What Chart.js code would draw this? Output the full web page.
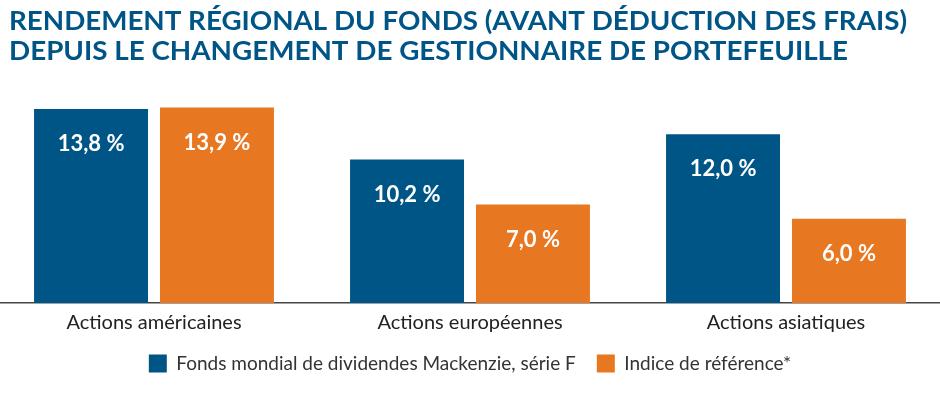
<!DOCTYPE html>
<html>
<head>
<meta charset="utf-8">
<script src="https://cdn.jsdelivr.net/npm/chart.js@4"></script>
<style>
  html, body { margin: 0; padding: 0; background: #fff; overflow: hidden; }
  #wrap { position: absolute; left: -4px; top: 0; width: 948px; height: 397px; }
</style>
</head>
<body>
<div id="wrap"><canvas id="regionChart"></canvas></div>
<script>
// Rendement régional du fonds
const categories = ['Actions américaines', 'Actions européennes', 'Actions asiatiques'];
const fundValues = [13.8, 10.2, 12.0];
const indexValues = [13.9, 7.0, 6.0];
const seriesNames = ['Fonds mondial de dividendes Mackenzie, série F', 'Indice de référence*'];
const titleLines = [
    'RENDEMENT RÉGIONAL DU FONDS (AVANT DÉDUCTION DES FRAIS)',
    'DEPUIS LE CHANGEMENT DE GESTIONNAIRE DE PORTEFEUILLE'
];

const BLUE = '#005587';
const ORANGE = '#e87722';
const FONT = 'Lato, "Open Sans", sans-serif';

// title drawn by hand so each line can be fitted to its width
const titlePlugin = {
    id: 'titleLines',
    afterDraw(chart) {
        const ctx = chart.ctx;
        const widths = [898, 839];
        ctx.save();
        ctx.fillStyle = BLUE;
        ctx.font = 'bold 27px ' + FONT;
        ctx.textBaseline = 'alphabetic';
        titleLines.forEach((line, i) => {
            const w = ctx.measureText(line).width;
            ctx.save();
            ctx.translate(13, 30 + i * 30);
            ctx.scale(widths[i] / w, 1);
            ctx.fillText(line, 0, 0);
            ctx.restore();
        });
        ctx.restore();
    }
};

// value labels inside the top of each bar
const valueLabels = {
    id: 'valueLabels',
    afterDatasetsDraw(chart) {
        const ctx = chart.ctx;
        ctx.save();
        ctx.fillStyle = '#ffffff';
        ctx.font = 'bold 22px ' + FONT;
        ctx.textAlign = 'center';
        ctx.textBaseline = 'middle';
        chart.data.datasets.forEach((ds, i) => {
            chart.getDatasetMeta(i).data.forEach((bar, j) => {
                const txt = ds.data[j].toFixed(1).replace('.', ',') + ' %';
                ctx.fillText(txt, bar.x, bar.y + 35);
            });
        });
        ctx.restore();
    }
};

const ctx = document.getElementById('regionChart').getContext('2d');
const regionChart = new Chart(ctx, {
    type: 'bar',
    data: {
        labels: categories,
        datasets: [{
            label: seriesNames[0],
            data: fundValues,
            backgroundColor: BLUE
        }, {
            label: seriesNames[1],
            data: indexValues,
            backgroundColor: ORANGE
        }]
    },
    options: {
        responsive: true,
        maintainAspectRatio: false,
        animation: false,
        layout: { padding: { top: 78, bottom: 14, left: 0, right: 0 } },
        datasets: {
            bar: { barPercentage: 0.905, categoryPercentage: 0.797 }
        },
        scales: {
            y: { display: false, min: 0, max: 16 },
            x: {
                grid: { display: false, drawTicks: false },
                border: { display: true, color: '#444444', width: 1.5 },
                ticks: {
                    color: '#222222',
                    padding: 8,
                    font: { family: FONT, size: 20 }
                },
                afterFit(scale) { scale.height -= 10; }
            }
        },
        plugins: {
            legend: {
                position: 'bottom',
                labels: {
                    boxWidth: 18,
                    boxHeight: 18,
                    padding: 21,
                    color: '#333333',
                    font: { family: FONT, size: 19 }
                }
            },
            tooltip: { enabled: false }
        }
    },
    plugins: [titlePlugin, valueLabels]
});
</script>
</body>
</html>
